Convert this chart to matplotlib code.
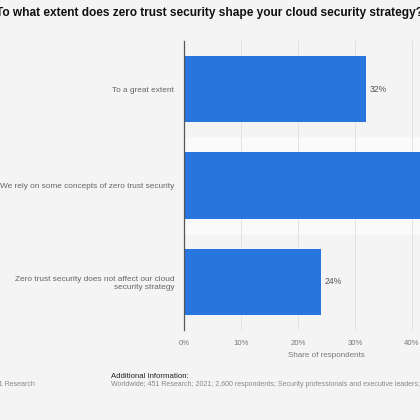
import matplotlib.pyplot as plt

categories = ['To a great extent',
              'We rely on some concepts of zero trust security',
              'Zero trust security does not affect our cloud\nsecurity strategy']
values = [32, 44, 24]
xticks = [0, 10, 20, 30, 40, 50]

bg = '#f4f4f4'
blue = '#2876dd'

plt.rcParams['font.family'] = ['Liberation Sans', 'DejaVu Sans']

fig = plt.figure(figsize=(4.2, 4.2), dpi=100, facecolor=bg)
# the plot area runs past the right edge, as in the cropped original
ax = fig.add_axes([184 / 420, 1 - 330 / 420, 285 / 420, 289 / 420])
ax.set_facecolor(bg)

ypos = list(range(len(categories)))
ax.axhspan(0.5, 1.5, color='#fafafa', zorder=0)
ax.barh(ypos, values, height=0.69, color=blue, zorder=3)
for y, v in zip(ypos, values):
    ax.text(v + 0.6, y, f'{v}%', va='center', ha='left', fontsize=6.2, color='#555555')

ax.set_ylim(2.5, -0.5)
ax.set_xlim(0, 50)
ax.set_yticks(ypos)
ax.set_yticklabels(categories, fontsize=5.95, color='#666666', linespacing=1.3)
ax.set_xticks(xticks)
ax.set_xticklabels([f'{t}%' for t in xticks], fontsize=5.6, color='#777777')
ax.tick_params(length=0, pad=7)
ax.tick_params(axis='y', pad=7)
ax.grid(axis='x', color='#e2e2e2', linewidth=0.7, zorder=1)
for s in ['top', 'right', 'bottom']:
    ax.spines[s].set_visible(False)
ax.spines['left'].set_color('#555555')
ax.spines['left'].set_linewidth(0.9)
ax.spines['left'].set_zorder(4)
ax.set_xlabel('Share of respondents', fontsize=5.8, color='#777777', labelpad=4)

fig.text(0.5, 1 - 13 / 420, 'To what extent does zero trust security shape your cloud security strategy?',
         ha='center', va='center', fontsize=8.6, fontweight='bold', color='#111111')
fig.text(35 / 420, 1 - 385 / 420, '451 Research', ha='right', va='center', fontsize=5, color='#888888')
fig.text(111 / 420, 1 - 376 / 420, 'Additional Information:', ha='left', va='center', fontsize=5.6, color='#222222')
fig.text(111 / 420, 1 - 385 / 420,
         'Worldwide; 451 Research; 2021; 2,600 respondents; Security professionals and executive leaders;',
         ha='left', va='center', fontsize=5, color='#888888')

fig.savefig('out.png', dpi=100, facecolor=bg)
